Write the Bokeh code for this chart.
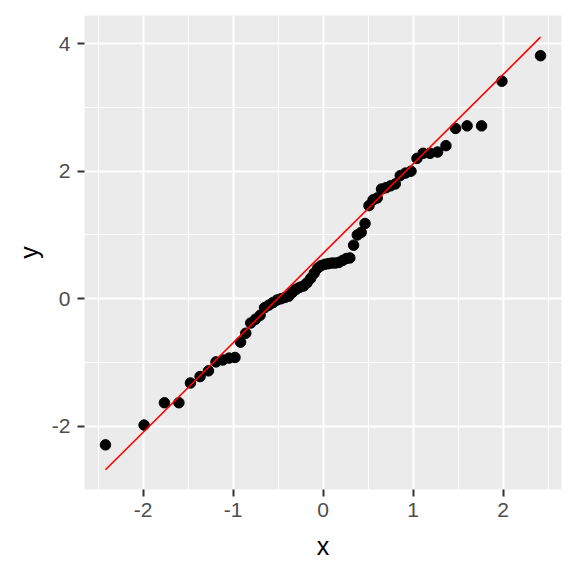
from bokeh.plotting import figure
from bokeh.models import FixedTicker, Range1d, ColumnDataSource
from bokeh.embed import file_html
from bokeh.resources import INLINE

# theoretical quantiles (x) and sample values (y)
x_vals = [-2.417, -1.988, -1.762, -1.601, -1.473, -1.366, -1.273, -1.189, -1.113, -1.044,
          -0.978, -0.916, -0.858, -0.803, -0.750, -0.699, -0.650, -0.602, -0.556, -0.511,
          -0.467, -0.424, -0.381, -0.340, -0.298, -0.258, -0.217, -0.177, -0.137, -0.098,
          -0.059, -0.020, 0.020, 0.059, 0.098, 0.137, 0.177, 0.217, 0.258, 0.298,
          0.340, 0.381, 0.424, 0.467, 0.511, 0.556, 0.602, 0.650, 0.699, 0.750,
          0.803, 0.858, 0.916, 0.978, 1.044, 1.113, 1.189, 1.273, 1.366, 1.473,
          1.601, 1.762, 1.988, 2.417]
y_vals = [-2.29, -1.98, -1.63, -1.63, -1.32, -1.22, -1.13, -0.99, -0.96, -0.93,
          -0.92, -0.68, -0.54, -0.38, -0.32, -0.26, -0.14, -0.10, -0.06, -0.02,
          0.00, 0.02, 0.04, 0.10, 0.15, 0.18, 0.20, 0.25, 0.32, 0.40,
          0.48, 0.52, 0.54, 0.55, 0.56, 0.56, 0.57, 0.60, 0.63, 0.64,
          0.84, 1.00, 1.04, 1.18, 1.46, 1.55, 1.58, 1.72, 1.74, 1.77,
          1.80, 1.93, 1.97, 2.00, 2.20, 2.28, 2.28, 2.30, 2.40, 2.67,
          2.71, 2.71, 3.41, 3.81]

# reference line end points
line_x = [-2.417, 2.417]
line_y = [-2.68, 4.10]

x_ticks = [-2, -1, 0, 1, 2]
x_minor = [-2.5, -1.5, -0.5, 0.5, 1.5, 2.5]
y_ticks = [-2, 0, 2, 4]
y_minor = [-3, -1, 1, 3]

p = figure(width=568, height=568, output_backend="svg", toolbar_location=None,
           x_range=Range1d(-2.65, 2.65), y_range=Range1d(-2.99, 4.44),
           min_border_left=84, min_border_right=7, min_border_top=15, min_border_bottom=79)

p.background_fill_color = "#EBEBEB"
p.border_fill_color = "white"
p.outline_line_color = None

p.xaxis.ticker = FixedTicker(ticks=x_ticks, minor_ticks=x_minor)
p.yaxis.ticker = FixedTicker(ticks=y_ticks, minor_ticks=y_minor)
p.xaxis.major_label_overrides = {t: str(t) for t in x_ticks}
p.yaxis.major_label_overrides = {t: str(t) for t in y_ticks}

for g in (p.xgrid, p.ygrid):
    g.grid_line_color = "white"
    g.grid_line_width = 2
    g.minor_grid_line_color = "white"
    g.minor_grid_line_width = 1

for ax in (p.xaxis, p.yaxis):
    ax.axis_line_color = None
    ax.major_tick_line_color = "#333333"
    ax.major_tick_line_width = 2
    ax.major_tick_out = 7
    ax.major_tick_in = 0
    ax.minor_tick_line_color = None
    ax.major_label_text_font = "Liberation Sans"
    ax.major_label_text_font_size = "21px"
    ax.major_label_text_color = "#4D4D4D"
    ax.axis_label_text_font = "Liberation Sans"
    ax.axis_label_text_font_size = "25px"
    ax.axis_label_text_font_style = "normal"
    ax.axis_label_text_color = "black"

p.xaxis.axis_label = "x"
p.yaxis.axis_label = "y"
p.xaxis.major_label_standoff = 6
p.yaxis.major_label_standoff = 7
p.xaxis.axis_label_standoff = 12
p.yaxis.axis_label_standoff = 6

src = ColumnDataSource(dict(x=x_vals, y=y_vals))
p.scatter("x", "y", source=src, size=10.5, color="black")
p.line(line_x, line_y, line_color="red", line_width=1.6)

open("out.html", "w").write(file_html(p, INLINE))
